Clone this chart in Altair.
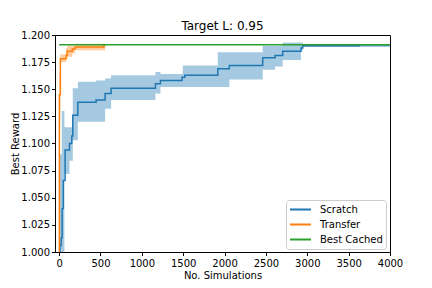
import altair as alt
import pandas as pd

# Scratch mean (step)
scratch_x = [0, 10, 24, 36, 50, 72, 125, 153, 165, 226, 447, 556, 628, 1164, 1225, 1486, 1519, 1918, 2058, 2461, 2610, 2703, 2924, 2945, 3630, 4000]
scratch_y = [1.000, 1.006, 1.013, 1.040, 1.066, 1.094, 1.100, 1.107, 1.126, 1.138, 1.140, 1.146, 1.151, 1.155, 1.158, 1.161, 1.163, 1.169, 1.172, 1.179, 1.181, 1.185, 1.188, 1.190, 1.191, 1.191]

# Scratch band
sband_x = [0, 10, 32, 64, 125, 165, 226, 447, 556, 628, 1164, 1225, 1495, 1918, 2058, 2461, 2610, 2703, 2924, 2945, 4000]
sband_lo = [1.000, 1.000, 1.000, 1.072, 1.084, 1.103, 1.120, 1.120, 1.132, 1.140, 1.146, 1.152, 1.152, 1.152, 1.159, 1.168, 1.171, 1.177, 1.186, 1.189, 1.189]
sband_hi = [1.020, 1.090, 1.130, 1.115, 1.115, 1.151, 1.157, 1.158, 1.160, 1.163, 1.166, 1.164, 1.172, 1.184, 1.184, 1.190, 1.190, 1.193, 1.193, 1.191, 1.191]

# Transfer mean and band
transfer_x = [0, 3, 15, 85, 97, 160, 193, 540, 556]
transfer_y = [1.000, 1.145, 1.178, 1.181, 1.185, 1.187, 1.189, 1.190, 1.190]
transfer_lo = [1.000, 1.120, 1.175, 1.178, 1.180, 1.183, 1.186, 1.186, 1.186]
transfer_hi = [1.000, 1.165, 1.182, 1.188, 1.190, 1.190, 1.192, 1.192, 1.192]

# Best cached
cached_x = [0, 4000]
cached_y = [1.191, 1.191]

series = ["Scratch", "Transfer", "Best Cached"]
colors = ["#1f77b4", "#ff7f0e", "#2ca02c"]
x_ticks = [0, 500, 1000, 1500, 2000, 2500, 3000, 3500, 4000]
y_ticks = [1.0, 1.025, 1.05, 1.075, 1.1, 1.125, 1.15, 1.175, 1.2]

lines = pd.concat([
    pd.DataFrame({"x": scratch_x, "y": scratch_y, "series": "Scratch", "o": 0}),
    pd.DataFrame({"x": transfer_x, "y": transfer_y, "series": "Transfer", "o": 1}),
    pd.DataFrame({"x": cached_x, "y": cached_y, "series": "Best Cached", "o": 2}),
])
bands = pd.concat([
    pd.DataFrame({"x": sband_x, "lo": sband_lo, "hi": sband_hi, "series": "Scratch"}),
    pd.DataFrame({"x": transfer_x, "lo": transfer_lo, "hi": transfer_hi, "series": "Transfer"}),
])

xs = alt.Scale(domain=[-50, 4000], nice=False, zero=False)
ys = alt.Scale(domain=[1.0, 1.2], nice=False, zero=False)

xaxis = alt.Axis(values=x_ticks, format="d", title="No. Simulations", grid=False,
                 labelOverlap=False, labelFlush=False)
yaxis = alt.Axis(values=y_ticks, format=".3f", title="Best Reward", grid=False,
                 labelOverlap=False, labelFlush=False)

area = alt.Chart(bands).mark_area(interpolate="step-after", opacity=0.4, clip=True).encode(
    x=alt.X("x:Q", scale=xs, axis=xaxis),
    y=alt.Y("lo:Q", scale=ys, axis=yaxis),
    y2="hi:Q",
    fill=alt.Fill("series:N", scale=alt.Scale(domain=series, range=colors), legend=None),
)

line = alt.Chart(lines).mark_line(interpolate="step-after", strokeWidth=1.5, clip=True).encode(
    x=alt.X("x:Q", scale=xs, axis=xaxis),
    y=alt.Y("y:Q", scale=ys, axis=yaxis),
    color=alt.Color("series:N", scale=alt.Scale(domain=series, range=colors),
                    legend=alt.Legend(title=None, orient="none", legendX=231, legendY=165,
                                      symbolType="stroke", symbolSize=440, symbolStrokeWidth=2,
                                      labelFontSize=10, labelFont="DejaVu Sans", labelColor="black",
                                      padding=3, strokeColor="#cccccc", fillColor="white",
                                      cornerRadius=3, rowPadding=2, clipHeight=13, labelOffset=8)),
    order="o:Q",
)

chart = alt.layer(area, line).properties(
    width=335, height=217,
    title=alt.TitleParams("Target L: 0.95", fontSize=12, font="DejaVu Sans", fontWeight="normal",
                          color="black", offset=-3, frame="group"),
    autosize=alt.AutoSizeParams(type="none"),
    padding={"left": 47, "top": 27, "right": 34, "bottom": 28},
).resolve_scale(fill="independent").configure_view(
    stroke="black", strokeWidth=1
).configure_axis(
    labelFontSize=10, titleFontSize=10, labelFont="DejaVu Sans", titleFont="DejaVu Sans",
    titleFontWeight="normal", labelColor="black", titleColor="black",
    domainColor="black", tickColor="black", tickSize=3.5, domainWidth=1,
).configure_axisY(titlePadding=0, labelPadding=2).configure_axisX(titlePadding=2, labelPadding=3)

chart.save("out.html", embed_options={"renderer": "svg", "actions": False})
